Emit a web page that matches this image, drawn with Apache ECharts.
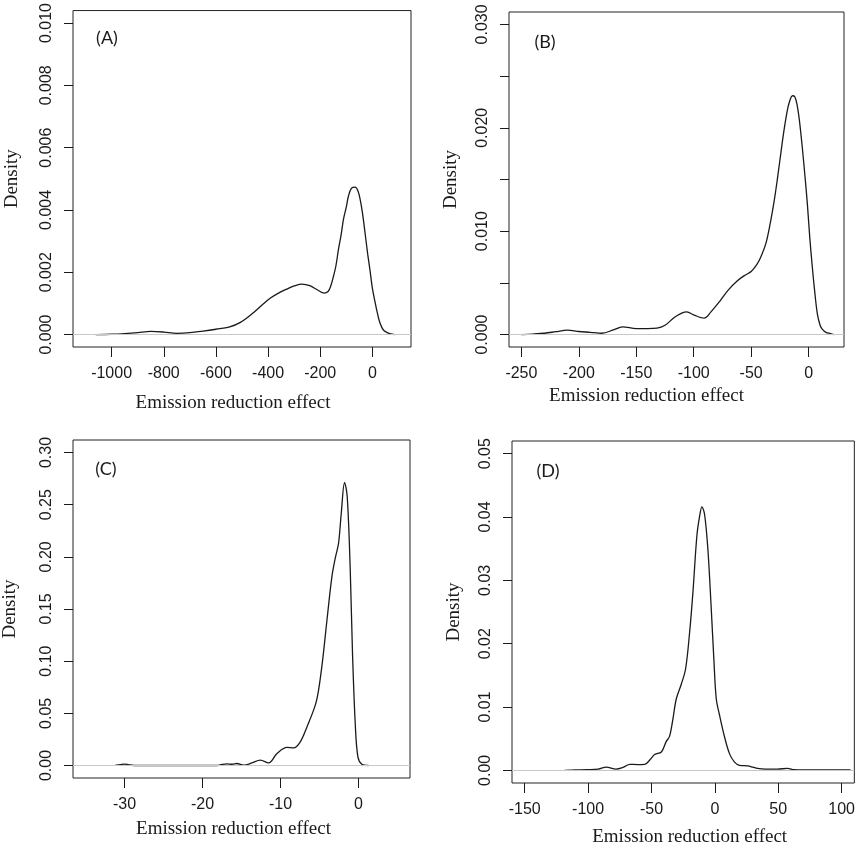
<!DOCTYPE html>
<html>
<head>
<meta charset="utf-8">
<script src="https://cdn.jsdelivr.net/npm/echarts@6/dist/echarts.min.js"></script>
<style>
  html, body { margin: 0; padding: 0; background: #fff; }
  #main { width: 858px; height: 848px; }
</style>
</head>
<body>
<div id="main"></div>
<script>
// (A) density curve
var xA = [-1061, -1000, -950, -900, -850, -800, -750, -700, -650, -600, -550, -506, -455, -420, -391, -360, -328, -300, -270, -240, -210, -185, -170, -160, -149, -140, -130, -120, -111, -100, -92, -80, -66, -55, -47, -38, -28, -18, -9, 0, 10, 17, 26, 36, 45, 55, 70, 85];
var densA = [0, 0.00001, 0.00003, 0.00006, 0.0001, 0.00008, 0.00004, 0.00006, 0.00011, 0.00017, 0.00024, 0.00039, 0.00071, 0.00097, 0.00117, 0.00133, 0.00146, 0.00156, 0.00162, 0.00157, 0.00143, 0.00133, 0.00138, 0.00155, 0.00188, 0.0022, 0.00274, 0.0032, 0.0037, 0.0041, 0.00444, 0.0047, 0.00473, 0.0046, 0.00434, 0.0039, 0.00325, 0.00258, 0.00205, 0.00148, 0.00105, 0.00077, 0.00045, 0.00023, 0.00012, 0.00007, 0.00002, 0];

// (B)
var xB = [-250, -240, -230, -220, -210, -200, -190, -180, -170, -162, -150, -140, -132, -125, -117, -110, -106, -100, -91, -85, -77, -70, -62, -56, -50, -45, -42, -37, -33, -30, -27, -24, -21.5, -19, -17, -14, -12, -10, -8, -5.5, -3, -1, 1, 3, 5, 7.6, 10, 12, 15, 19, 22];
var densB = [0, 0.00005, 0.00013, 0.00028, 0.00043, 0.0003, 0.00022, 0.00013, 0.00045, 0.00075, 0.00058, 0.00058, 0.00062, 0.0009, 0.00165, 0.0021, 0.0022, 0.0019, 0.00159, 0.0022, 0.00327, 0.0043, 0.0052, 0.0057, 0.0061, 0.0068, 0.0074, 0.0089, 0.011, 0.0129, 0.0152, 0.0177, 0.0197, 0.0214, 0.0224, 0.0231, 0.023, 0.0222, 0.0207, 0.0181, 0.0151, 0.0125, 0.0094, 0.0068, 0.0045, 0.002, 0.0009, 0.0005, 0.00022, 0.0001, 0];

// (C)
var xC = [-31.2, -30.5, -30, -29.5, -28.8, -18.1, -17.5, -16.9, -16.2, -15.6, -14.7, -13.65, -12.59, -11.52, -10.45, -9.17, -8.32, -7.46, -6.61, -5.54, -5.12, -4.6, -4.05, -3.41, -2.98, -2.56, -2.21, -1.79, -1.45, -1.06, -0.77, -0.42, -0.08, 0.43, 1.28];
var densC = [0, 0.0008, 0.0013, 0.0008, 0, 0, 0.001, 0.0016, 0.0012, 0.0019, 0.0003, 0.0025, 0.0051, 0.0025, 0.0115, 0.0173, 0.0169, 0.0227, 0.037, 0.0579, 0.0723, 0.101, 0.139, 0.181, 0.1987, 0.213, 0.2418, 0.2712, 0.2578, 0.1874, 0.1075, 0.0403, 0.0083, 0.0012, 0];

// (D)
var xD = [-118.5, -110, -100, -92, -85.7, -78, -72, -67.1, -61, -55.3, -51, -47.5, -42.2, -38.5, -35.7, -33.1, -30.4, -26.5, -23.1, -19.9, -17.3, -14.2, -12.05, -10.2, -8.1, -5.5, -2.85, -0.8, 1.1, 3.7, 7.6, 11.6, 15.5, 19.4, 25.8, 30, 33.6, 40, 49.4, 57.2, 62.5, 70, 80, 90, 100, 107];
var densD = [0, 0.00005, 0.0001, 0.0002, 0.0005, 0.0002, 0.0005, 0.00095, 0.0009, 0.00095, 0.0017, 0.0025, 0.0029, 0.0045, 0.0054, 0.0081, 0.0113, 0.0136, 0.016, 0.0218, 0.0281, 0.037, 0.0401, 0.0416, 0.0404, 0.0349, 0.0255, 0.0176, 0.0113, 0.0087, 0.0053, 0.0026, 0.0013, 0.0008, 0.0007, 0.0005, 0.0003, 0.0002, 0.0002, 0.0003, 0.0001, 0.00005, 0.00005, 0.00005, 0.00005, 0.00005];

// tick values
var xTicksA = [-1000, -800, -600, -400, -200, 0];
var yTicksA = [0, 0.002, 0.004, 0.006, 0.008, 0.010];
var xTicksB = [-250, -200, -150, -100, -50, 0];
var yTicksB = [0, 0.005, 0.010, 0.015, 0.020, 0.025, 0.030];
var yLabelsB = [0, 0.010, 0.020, 0.030];
var xTicksC = [-30, -20, -10, 0];
var yTicksC = [0, 0.05, 0.10, 0.15, 0.20, 0.25, 0.30];
var xTicksD = [-150, -100, -50, 0, 50, 100];
var yTicksD = [0, 0.01, 0.02, 0.03, 0.04, 0.05];

var panelNames = ['(A)', '(B)', '(C)', '(D)'];

var INK = '#1a1a1a';
var SANS = 'Liberation Sans, Arial, sans-serif';
var SERIF = 'Liberation Serif, Times New Roman, serif';

function zip(xs, ys) {
    var d = [];
    for (var i = 0; i < xs.length; i++) d.push([xs[i], ys[i]]);
    return d;
}

var grids = [
    {left: 73, top: 9, width: 338, height: 338},
    {left: 509, top: 12, width: 335, height: 335},
    {left: 73, top: 440, width: 337, height: 338},
    {left: 512, top: 441, width: 344, height: 343}
];

var panels = [
    {x: xA, y: densA, xmin: -1148, xmax: 148, ymin: -0.0004, ymax: 0.0104,
     xt: xTicksA, yt: yTicksA, yl: yTicksA, dec: 3, xGap: 47, xPad: [0, 18, 0, 0], yGap: 51},
    {x: xB, y: densB, xmin: -260.8, xmax: 30.8, ymin: -0.0012, ymax: 0.0312,
     xt: xTicksB, yt: yTicksB, yl: yLabelsB, dec: 3, xGap: 40, xPad: [0, 60, 0, 0], yGap: 48},
    {x: xC, y: densC, xmin: -36.6, xmax: 6.6, ymin: -0.012, ymax: 0.312,
     xt: xTicksC, yt: yTicksC, yl: yTicksC, dec: 2, xGap: 42, xPad: [0, 16, 0, 0], yGap: 53},
    {x: xD, y: densD, xmin: -160, xmax: 110, ymin: -0.002, ymax: 0.052,
     xt: xTicksD, yt: yTicksD, yl: yTicksD, dec: 2, xGap: 45, xPad: [0, 0, 0, 13], yGap: 48}
];

var xAxes = [], yAxes = [], series = [];

panels.forEach(function (p, i) {
    xAxes.push({
        gridIndex: i,
        type: 'value',
        min: p.xmin,
        max: p.xmax,
        name: 'Emission reduction effect',
        nameLocation: 'middle',
        nameGap: p.xGap,
        nameTextStyle: {fontFamily: SERIF, fontSize: 19, color: INK, padding: p.xPad},
        axisLine: {show: false, onZero: false},
        splitLine: {show: false},
        axisTick: {show: true, inside: false, length: 10, customValues: p.xt,
                   lineStyle: {color: INK, width: 1}},
        axisLabel: {customValues: p.xt, margin: 19, fontFamily: SANS, fontSize: 16, color: INK,
                    formatter: function (v) { return String(v); }}
    });
    yAxes.push({
        gridIndex: i,
        type: 'value',
        min: p.ymin,
        max: p.ymax,
        name: 'Density',
        nameLocation: 'middle',
        nameGap: p.yGap,
        nameTextStyle: {fontFamily: SERIF, fontSize: 19, color: INK},
        axisLine: {show: false, onZero: false},
        splitLine: {show: false},
        axisTick: {show: true, inside: false, length: 9, customValues: p.yt,
                   lineStyle: {color: INK, width: 1}},
        axisLabel: {customValues: p.yl, rotate: 90, margin: 18, fontFamily: SANS, fontSize: 16, color: INK,
                    formatter: (function (dec) {
                        return function (v) { return Number(v).toFixed(dec); };
                    })(p.dec)}
    });
    series.push({
        type: 'line',
        xAxisIndex: i,
        yAxisIndex: i,
        data: zip(p.x, p.y),
        showSymbol: false,
        smooth: 0.35,
        lineStyle: {color: INK, width: 1.3},
        markLine: {
            silent: true,
            symbol: ['none', 'none'],
            label: {show: false},
            lineStyle: {color: '#c8c8c8', type: 'solid', width: 1},
            data: [{yAxis: 0}]
        }
    });
});

var letterPos = [[107, 38], [545, 42], [106, 469], [548, 471]];

var chart = echarts.init(document.getElementById('main'));
chart.setOption({
    animation: false,
    backgroundColor: '#fff',
    grid: grids.map(function (g) {
        return {left: g.left, top: g.top, width: g.width, height: g.height,
                show: true, borderColor: '#222', borderWidth: 1, backgroundColor: 'transparent'};
    }),
    xAxis: xAxes,
    yAxis: yAxes,
    series: series,
    graphic: panelNames.map(function (t, i) {
        return {
            type: 'text',
            x: letterPos[i][0],
            y: letterPos[i][1],
            style: {text: t, fontFamily: 'Lato, sans-serif', fontSize: 18, fill: INK,
                    textAlign: 'center', textVerticalAlign: 'middle'}
        };
    })
});
</script>
</body>
</html>
